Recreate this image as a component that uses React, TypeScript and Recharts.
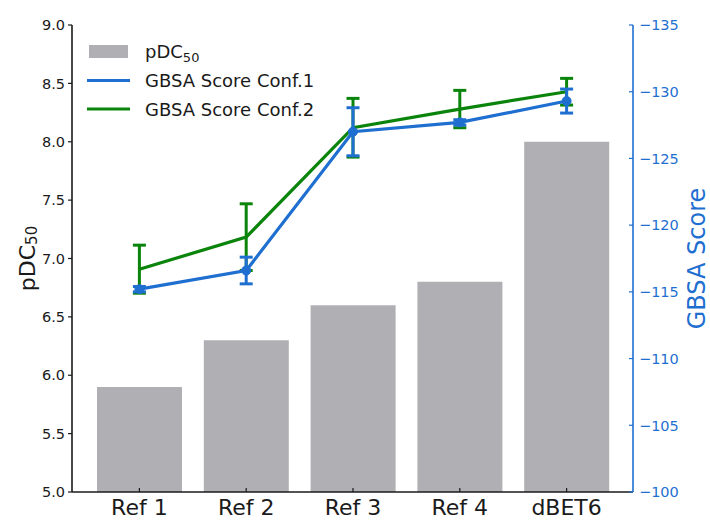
import React from 'react';
import {
  ComposedChart,
  Bar,
  Line,
  ErrorBar,
  XAxis,
  YAxis,
  Legend,
  Label
} from 'recharts';

// Compounds on the x axis
const compounds = ['Ref 1', 'Ref 2', 'Ref 3', 'Ref 4', 'dBET6'];

// Measured potency (left axis)
const pdc50 = [5.9, 6.3, 6.6, 6.8, 8.0];

// GBSA docking scores for the two conformations (right axis) with their spread
const gbsaConf1 = [-115.2, -116.6, -127.0, -127.7, -129.3];
const gbsaConf1Err = [0.2, 1.0, 1.8, 0.2, 0.9];
const gbsaConf2 = [-116.7, -119.1, -127.3, -128.7, -130.0];
const gbsaConf2Err = [1.8, 2.5, 2.2, 1.4, 1.0];

const pdcTicks = [5.0, 5.5, 6.0, 6.5, 7.0, 7.5, 8.0, 8.5, 9.0];
const gbsaTicks = [-135, -130, -125, -120, -115, -110, -105, -100];

const FONT = '"DejaVu Sans", sans-serif';
const BAR_GRAY = '#b0afb4';
const BLUE = '#1f6fd0';
const GREEN = '#0b840b';
const INK = '#1a1a1a';

const rows = compounds.map((name, i) => ({
  name,
  pdc: pdc50[i],
  conf1: gbsaConf1[i],
  conf1Err: gbsaConf1Err[i],
  conf2: gbsaConf2[i],
  conf2Err: gbsaConf2Err[i]
}));

// x tick: short inward mark plus the compound name below the axis
const CompoundTick = ({ x, y, payload }: any) => (
  <g>
    <line x1={x} x2={x} y1={y} y2={y - 4} stroke={INK} strokeWidth={1.2} />
    <text x={x} y={y + 23} textAnchor="middle" fontSize={22} fontFamily={FONT} fill={INK}>
      {payload.value}
    </text>
  </g>
);

// right axis tick: inward mark, blue label with a real minus sign
const GbsaTick = ({ x, y, payload }: any) => (
  <g>
    <line x1={x - 4} x2={x} y1={y} y2={y} stroke={BLUE} strokeWidth={1.2} />
    <text x={x + 6} y={y} dy="0.36em" textAnchor="start" fontSize={14.5} fontFamily={FONT} fill={BLUE}>
      {payload.value < 0 ? `\u2212${Math.abs(payload.value)}` : payload.value}
    </text>
  </g>
);

const PdcTitle = ({ viewBox }: any) => {
  const cx = viewBox.x + 27;
  const cy = viewBox.y + viewBox.height / 2;
  return (
    <text
      x={cx}
      y={cy}
      transform={`rotate(-90 ${cx} ${cy})`}
      textAnchor="middle"
      dominantBaseline="central"
      fontSize={22}
      fontFamily={FONT}
      fill={INK}
    >
      pDC
      <tspan fontSize={15} dy={5}>50</tspan>
    </text>
  );
};

const GbsaTitle = ({ viewBox }: any) => {
  const cx = viewBox.x + 64;
  const cy = viewBox.y + viewBox.height / 2;
  return (
    <text
      x={cx}
      y={cy}
      transform={`rotate(-90 ${cx} ${cy})`}
      textAnchor="middle"
      dominantBaseline="central"
      fontSize={24}
      fontFamily={FONT}
      fill={BLUE}
    >
      GBSA Score
    </text>
  );
};

const renderLegend = () => (
  <svg width={260} height={86} style={{ display: 'block' }}>
    <rect x={9} y={9} width={39} height={13} fill={BAR_GRAY} />
    <text x={65} y={22} fontSize={18} fontFamily={FONT} fill={INK}>
      pDC<tspan fontSize={13} dy={4}>50</tspan>
    </text>
    <line x1={7} x2={50} y1={44.5} y2={44.5} stroke={BLUE} strokeWidth={3.2} />
    <text x={65} y={51} fontSize={18} fontFamily={FONT} fill={INK}>
      GBSA Score Conf.1
    </text>
    <line x1={7} x2={50} y1={73} y2={73} stroke={GREEN} strokeWidth={3.2} />
    <text x={65} y={79.5} fontSize={18} fontFamily={FONT} fill={INK}>
      GBSA Score Conf.2
    </text>
  </svg>
);

export default function App() {
  return (
    <div style={{ position: 'absolute', left: 0, top: 0, width: 710, height: 520, background: '#fff' }}>
      <ComposedChart
        width={710}
        height={520}
        data={rows}
        margin={{ top: 25, right: 0, bottom: 0, left: 0 }}
      >
        <XAxis
          dataKey="name"
          interval={0}
          height={28}
          padding={{ left: 14, right: 13 }}
          tickLine={false}
          tickSize={0}
          tickMargin={0}
          tick={<CompoundTick />}
          axisLine={{ stroke: INK, strokeWidth: 1.6 }}
        />
        <YAxis
          yAxisId="left"
          width={72}
          domain={[5, 9]}
          ticks={pdcTicks}
          allowDataOverflow
          tickFormatter={(v: number) => v.toFixed(1)}
          tickSize={4}
          tickMargin={3}
          tickLine={{ stroke: INK, strokeWidth: 1.2 }}
          axisLine={{ stroke: INK, strokeWidth: 1.6 }}
          tick={{ fontSize: 14.5, fontFamily: FONT, fill: INK }}
        >
          <Label content={<PdcTitle />} />
        </YAxis>
        <YAxis
          yAxisId="right"
          orientation="right"
          width={77}
          domain={[-135, -100]}
          reversed
          ticks={gbsaTicks}
          allowDataOverflow
          tickLine={false}
          tickSize={0}
          tickMargin={0}
          tick={<GbsaTick />}
          axisLine={{ stroke: BLUE, strokeWidth: 1.6 }}
        >
          <Label content={<GbsaTitle />} />
        </YAxis>
        {/* middle/center alignment keeps the legend from reserving plot space */}
        <Legend
          layout="horizontal"
          verticalAlign="middle"
          align="center"
          content={renderLegend}
          wrapperStyle={{ position: 'absolute', left: 80, top: 36, width: 260, height: 86 }}
        />
        <Bar
          yAxisId="left"
          dataKey="pdc"
          name="pDC50"
          fill={BAR_GRAY}
          barSize={85}
          isAnimationActive={false}
        />
        <Line
          yAxisId="right"
          type="linear"
          dataKey="conf2"
          name="GBSA Score Conf.2"
          stroke={GREEN}
          strokeWidth={3.2}
          dot={false}
          activeDot={false}
          isAnimationActive={false}
        >
          <ErrorBar dataKey="conf2Err" direction="y" width={6.5} stroke={GREEN} strokeWidth={3} />
        </Line>
        <Line
          yAxisId="right"
          type="linear"
          dataKey="conf1"
          name="GBSA Score Conf.1"
          stroke={BLUE}
          strokeWidth={3.2}
          dot={{ r: 4.5, fill: BLUE, stroke: BLUE, strokeWidth: 1 }}
          activeDot={false}
          isAnimationActive={false}
        >
          <ErrorBar dataKey="conf1Err" direction="y" width={6.5} stroke={BLUE} strokeWidth={3} />
        </Line>
      </ComposedChart>
    </div>
  );
}
